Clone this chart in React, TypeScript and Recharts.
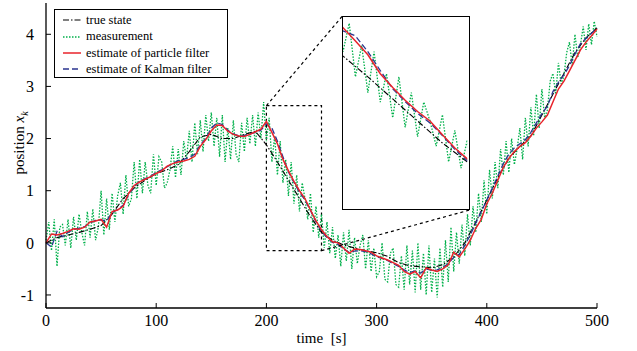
import { Line, LineChart, ReferenceArea, ReferenceLine, XAxis, YAxis } from "recharts";

// sampling grids (seconds)
const MEAS_STEP = 2.5;
const FILTER_STEP = 5;
const TRUE_STEP = 10;

const xTicks = [0, 100, 200, 300, 400, 500];
const yTicks = [-1, 0, 1, 2, 3, 4];
const insetTicks = [210, 220, 230, 240];

const trueState = [
    0.0, 0.1, 0.15, 0.2, 0.26, 0.33, 0.55, 0.85, 1.05, 1.2,
    1.33, 1.4, 1.5, 1.75, 2.03, 2.08, 2.0, 2.0, 2.08, 2.14,
    1.88, 1.55, 1.2, 0.85, 0.5, 0.2, 0.05, -0.04, -0.1, -0.15,
    -0.19, -0.26, -0.38, -0.44, -0.46, -0.48, -0.42, -0.27, 0.0, 0.4,
    0.82, 1.25, 1.62, 1.85, 2.05, 2.45, 2.85, 3.25, 3.65, 3.93,
    4.12
];

const measurement = [
    0.05, 0.4, -0.15, 0.45, -0.45, 0.3, 0.35, -0.05, 0.45, -0.1,
    0.5, 0.05, 0.55, 0.2, -0.05, 0.6, 0.1, 0.65, 0.05, 0.3,
    1.0, 0.15, 0.85, 0.25, 0.95, 0.4, 0.9, 1.15, 0.55, 1.3,
    0.7, 0.85, 1.55, 0.85, 1.6, 0.95, 1.55, 1.1, 0.95, 1.7,
    1.1, 1.65, 1.55, 1.05, 1.15, 1.4, 1.85, 1.25, 1.8, 1.3,
    1.95, 1.6, 2.15, 1.55, 2.3, 1.7, 2.35, 1.75, 2.45, 1.95,
    2.5, 1.85, 2.4, 1.65, 2.45, 1.55, 2.2, 1.6, 2.35, 1.7,
    1.55, 2.3, 1.75, 2.4, 1.9, 2.45, 1.85, 2.5, 2.0, 2.7,
    1.95, 2.4, 1.55, 2.05, 1.3, 1.95, 1.15, 1.6, 0.9, 1.55,
    0.75, 1.3, 0.6, 1.15, 0.85, 0.45, 0.95, 0.2, 0.7, 0.1,
    0.55, -0.1, 0.4, -0.2, 0.3, -0.3, 0.15, -0.45, 0.2, -0.35,
    0.25, -0.5, 0.1, -0.4, -0.05, 0.15, -0.5, 0.05, -0.55, -0.1,
    -0.65, -0.55, 0.0, -0.7, -0.75, -0.2, -0.1, -0.8, -0.85, -0.25,
    -0.9, -0.05, -0.8, -0.15, -0.95, 0.0, -0.9, -0.2, -1.0, -0.05,
    -0.95, -0.3, -1.05, -0.1, -0.85, 0.05, -0.75, 0.3, -0.55, 0.2,
    -0.4, 0.35, -0.25, 0.55, -0.05, 0.7, 0.2, 0.95, 0.4, 1.2,
    0.55, 1.4, 0.85, 1.55, 1.05, 1.8, 1.3, 1.95, 1.35, 2.0,
    1.5, 1.8, 2.2, 1.6, 2.4, 1.85, 2.6, 2.05, 2.85, 2.2,
    2.95, 2.4, 2.55, 3.1, 3.25, 2.85, 3.45, 3.05, 3.2, 3.65,
    3.85, 3.4, 4.0, 3.55, 3.8, 4.15, 3.7, 4.2, 3.8, 4.25,
    3.95
];

const particleFilter = [
    0.0, 0.17, 0.15, 0.18, 0.22, 0.27, 0.26, 0.3, 0.4, 0.42,
    0.45, 0.3, 0.6, 0.63, 0.7, 0.95, 1.1, 1.17, 1.22, 1.27,
    1.33, 1.38, 1.47, 1.52, 1.55, 1.57, 1.6, 1.66, 1.85, 1.98,
    2.15, 2.26, 2.25, 2.14, 2.08, 2.05, 2.04, 2.08, 2.13, 2.18,
    2.33, 2.12, 1.9, 1.6, 1.38, 1.18, 1.0, 0.85, 0.63, 0.42,
    0.25, 0.12, 0.02, 0.0, -0.1, -0.2, -0.12, -0.13, -0.15, -0.18,
    -0.25, -0.29, -0.33, -0.38, -0.43, -0.55, -0.6, -0.55, -0.67, -0.48,
    -0.52, -0.55, -0.5, -0.42, -0.18, -0.27, -0.12, 0.05, 0.28, 0.45,
    0.75, 0.95, 1.2, 1.45, 1.62, 1.75, 1.85, 1.92, 2.05, 2.2,
    2.32, 2.45, 2.7, 2.95, 3.1, 3.3, 3.5, 3.7, 3.85, 3.97,
    4.1
];

const kalmanFilter = [
    0.0, -0.08, 0.22, 0.12, 0.2, 0.26, 0.28, 0.31, 0.38, 0.43,
    0.44, 0.42, 0.58, 0.64, 0.72, 0.93, 1.08, 1.18, 1.23, 1.28,
    1.35, 1.4, 1.46, 1.52, 1.58, 1.6, 1.64, 1.7, 1.88, 2.0,
    2.2, 2.3, 2.27, 2.16, 2.09, 2.05, 2.06, 2.09, 2.12, 2.16,
    2.28, 2.2, 1.95, 1.65, 1.36, 1.16, 0.97, 0.82, 0.62, 0.4,
    0.22, 0.1, 0.01, -0.03, -0.12, -0.18, -0.16, -0.15, -0.17, -0.21,
    -0.27, -0.3, -0.34, -0.4, -0.45, -0.52, -0.57, -0.54, -0.58, -0.5,
    -0.53, -0.52, -0.47, -0.4, -0.28, -0.22, -0.05, 0.15, 0.38, 0.6,
    0.82, 1.05, 1.28, 1.52, 1.7, 1.82, 1.9, 1.98, 2.12, 2.3,
    2.48, 2.62, 2.9, 3.08, 3.22, 3.4, 3.62, 3.82, 3.92, 4.02,
    4.12
];

const toPoints = (values: number[], step: number) => values.map((v, i) => ({ t: i * step, v }));

const trueData = toPoints(trueState, TRUE_STEP);
const measData = toPoints(measurement, MEAS_STEP);
const pfData = toPoints(particleFilter, FILTER_STEP);
const kfData = toPoints(kalmanFilter, FILTER_STEP);

const W = 637;
const H = 351;
const PLOT = { left: 46, top: 3, right: 597, bottom: 308 };
const X_DOMAIN: [number, number] = [0, 500];
const Y_DOMAIN: [number, number] = [-1.25, 4.6];

// zoomed window and where its magnified copy sits (data units of the main chart)
const ZOOM = { t1: 200, t2: 250, y1: -0.15, y2: 2.63 };
const INSET = { t1: 269, t2: 384.5, y1: 0.63, y2: 4.35 };
const INSET_Y: [number, number] = [-0.53, 2.5];

const toPx = (t: number) => PLOT.left + ((t - X_DOMAIN[0]) / (X_DOMAIN[1] - X_DOMAIN[0])) * (PLOT.right - PLOT.left);
const toPy = (y: number) => PLOT.top + ((Y_DOMAIN[1] - y) / (Y_DOMAIN[1] - Y_DOMAIN[0])) * (PLOT.bottom - PLOT.top);

const COLORS = {
    truth: "#000000",
    meas: "#00b04a",
    pf: "#e8232b",
    kf: "#2b3590"
};

const FONT = "'Liberation Serif', 'Times New Roman', serif";

const legendItems = [
    { name: "true state", color: COLORS.truth, dash: "6 2 1.5 2", width: 1.2 },
    { name: "measurement", color: COLORS.meas, dash: "1.5 1.5", width: 1.3 },
    { name: "estimate of particle filter", color: COLORS.pf, dash: undefined, width: 1.5 },
    { name: "estimate of Kalman filter", color: COLORS.kf, dash: "6 3", width: 1.3 }
];

function Series() {
    return [
        <Line key="m" data={measData} dataKey="v" stroke={COLORS.meas} strokeWidth={1.3} strokeDasharray="1.5 1.5" dot={false} isAnimationActive={false} />,
        <Line key="t" data={trueData} dataKey="v" stroke={COLORS.truth} strokeWidth={1.1} strokeDasharray="6 2 1.5 2" dot={false} isAnimationActive={false} />,
        <Line key="k" data={kfData} dataKey="v" stroke={COLORS.kf} strokeWidth={1.3} strokeDasharray="6 3" dot={false} isAnimationActive={false} />,
        <Line key="p" data={pfData} dataKey="v" stroke={COLORS.pf} strokeWidth={1.5} dot={false} isAnimationActive={false} />
    ];
}

function YLabel() {
    return (
        <text transform="translate(24,143) rotate(-90)" textAnchor="middle" fontFamily={FONT} fontSize={15} fill="#000">
            position <tspan fontStyle="italic">x</tspan>
            <tspan fontStyle="italic" fontSize={10} dy={4}>k</tspan>
        </text>
    );
}

function Legend() {
    return (
        <div
            style={{
                position: "absolute",
                left: 54,
                top: 9,
                width: 174,
                height: 69,
                boxSizing: "border-box",
                border: "1px solid #000",
                background: "#fff",
                padding: "2px 0 0 7px",
                fontFamily: FONT,
                fontSize: 12.5,
                lineHeight: "16.4px"
            }}
        >
            {legendItems.map((item) => (
                <div key={item.name} style={{ display: "flex", alignItems: "center", whiteSpace: "nowrap" }}>
                    <svg width={20} height={10} style={{ marginRight: 4 }}>
                        <line x1={1} y1={5} x2={19} y2={5} stroke={item.color} strokeWidth={item.width} strokeDasharray={item.dash} />
                    </svg>
                    <span>{item.name}</span>
                </div>
            ))}
        </div>
    );
}

function Inset() {
    const left = toPx(INSET.t1);
    const top = toPy(INSET.y2);
    const w = toPx(INSET.t2) - left;
    const h = toPy(INSET.y1) - top;
    return (
        <div
            style={{
                position: "absolute",
                left,
                top,
                width: w,
                height: h,
                boxSizing: "border-box",
                border: "1.5px solid #000",
                background: "#fff"
            }}
        >
            <LineChart width={w - 3} height={h - 3} margin={{ top: 0, right: 0, bottom: 0, left: 0 }}>
                <XAxis dataKey="t" type="number" domain={[ZOOM.t1, ZOOM.t2]} allowDataOverflow ticks={insetTicks} height={0} mirror tick={false} axisLine={false} tickSize={4} tickLine={{ stroke: "#000" }} />
                <XAxis xAxisId="top" orientation="top" dataKey="t" type="number" domain={[ZOOM.t1, ZOOM.t2]} allowDataOverflow ticks={insetTicks} height={0} mirror tick={false} axisLine={false} tickSize={4} tickLine={{ stroke: "#000" }} />
                <YAxis type="number" domain={INSET_Y} allowDataOverflow width={0} hide />
                {Series()}
            </LineChart>
        </div>
    );
}

export default function App() {
    return (
        <div style={{ position: "absolute", left: 0, top: 0, width: W, height: H, background: "#fff" }}>
            <LineChart width={W} height={H} margin={{ top: PLOT.top, right: W - PLOT.right, bottom: 13, left: 0 }}>
                <XAxis
                    dataKey="t"
                    type="number"
                    domain={X_DOMAIN}
                    ticks={xTicks}
                    height={H - 13 - PLOT.bottom}
                    tickSize={-5}
                    tickMargin={12}
                    axisLine={{ stroke: "#000", strokeWidth: 1.3 }}
                    tickLine={{ stroke: "#000" }}
                    tick={{ fill: "#000", fontSize: 16, fontFamily: FONT }}
                    label={{ value: "time\u00a0\u00a0[s]", position: "insideBottom", offset: -5, fill: "#000", fontSize: 15, fontFamily: FONT }}
                />
                <XAxis xAxisId="top" orientation="top" dataKey="t" type="number" domain={X_DOMAIN} ticks={xTicks} height={0} mirror tick={false} tickSize={5} axisLine={{ stroke: "#000", strokeWidth: 1.3 }} tickLine={{ stroke: "#000" }} />
                <YAxis
                    type="number"
                    domain={Y_DOMAIN}
                    ticks={yTicks}
                    width={PLOT.left}
                    tickSize={-5}
                    tickMargin={17}
                    axisLine={{ stroke: "#000", strokeWidth: 1.3 }}
                    tickLine={{ stroke: "#000" }}
                    tick={{ fill: "#000", fontSize: 16, fontFamily: FONT }}
                    label={<YLabel />}
                />
                <YAxis yAxisId="right" orientation="right" type="number" domain={Y_DOMAIN} ticks={yTicks} width={0} mirror tick={false} tickSize={5} axisLine={{ stroke: "#000", strokeWidth: 1.3 }} tickLine={{ stroke: "#000" }} />
                {Series()}
                <ReferenceArea x1={ZOOM.t1} x2={ZOOM.t2} y1={ZOOM.y1} y2={ZOOM.y2} fill="none" stroke="#000" strokeWidth={1.2} strokeDasharray="3 3" />
                <ReferenceLine segment={[{ x: ZOOM.t1, y: ZOOM.y2 }, { x: INSET.t1, y: INSET.y2 }]} stroke="#000" strokeWidth={1.2} strokeDasharray="3 3" />
                <ReferenceLine segment={[{ x: ZOOM.t2, y: ZOOM.y1 }, { x: INSET.t2, y: INSET.y1 }]} stroke="#000" strokeWidth={1.2} strokeDasharray="3 3" />
            </LineChart>
            <Inset />
            <Legend />
        </div>
    );
}
